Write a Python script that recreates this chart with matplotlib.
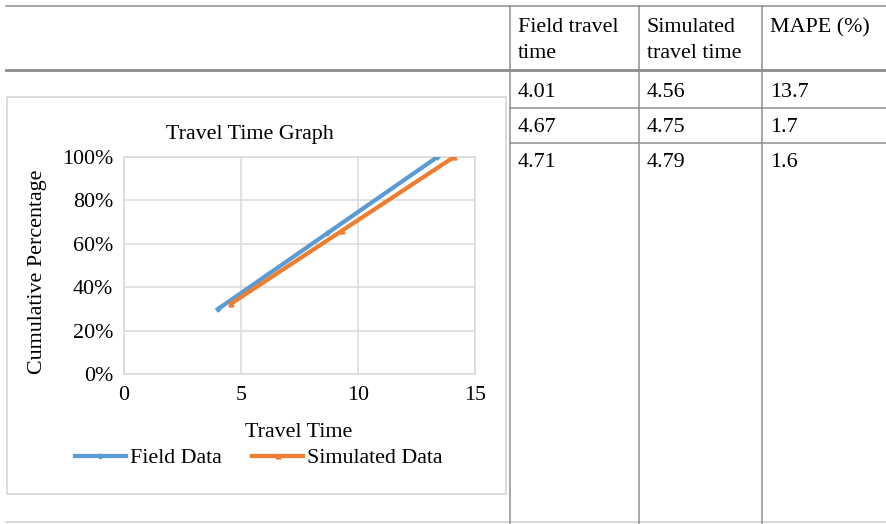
import matplotlib
matplotlib.use("Agg")
import matplotlib.pyplot as plt
from matplotlib.patches import Rectangle
from matplotlib.ticker import FuncFormatter

# DATOS
# tabla de tiempos de viaje
header_cols = [["Field travel", "time"], ["Simulated", "travel time"], ["MAPE (%)"]]
field_tt = ["4.01", "4.67", "4.71"]
sim_tt = ["4.56", "4.75", "4.79"]
mape = ["13.7", "1.7", "1.6"]

# grafica: tiempo acumulado vs porcentaje acumulado
field_time = [4.01, 8.68, 13.39]
field_pct = [29.9, 64.8, 100.0]
sim_time = [4.56, 9.31, 14.10]
sim_pct = [32.3, 66.0, 100.0]

plt.rcParams['font.family'] = ['Liberation Serif', 'DejaVu Serif']
FS = 15.8
W, H = 886, 524
px = 0.72  # pixel -> punto

fig = plt.figure(figsize=(W / 100, H / 100), dpi=100)

# capa para la tabla, en coordenadas de pixel
base = fig.add_axes([0, 0, 1, 1])
base.set_xlim(0, W)
base.set_ylim(H, 0)
base.axis('off')

col_x = [510, 639, 762]
gris = '#8c8c8c'
base.plot([6, W], [6, 6], color=gris, lw=1.5 * px)
base.plot([6, W], [70, 70], color=gris, lw=2.8 * px)
for yy in [108, 143]:
    base.plot([col_x[0], W], [yy, yy], color=gris, lw=1.5 * px)
base.plot([6, W], [522, 522], color='#cfcfcf', lw=1.6 * px)
for xx in col_x:
    base.plot([xx, xx], [6, H], color=gris, lw=1.5 * px)

# encabezados
for xx, lines in zip(col_x, header_cols):
    for k, t in enumerate(lines):
        base.text(xx + 8, 32 + 26 * k, t, fontsize=FS, va='baseline', ha='left')

# filas
for i in range(len(field_tt)):
    yb = 97 + 35 * i
    for xx, val in zip(col_x, [field_tt[i], sim_tt[i], mape[i]]):
        base.text(xx + 8, yb, val, fontsize=FS, va='baseline', ha='left')

# marco de la grafica
base.add_patch(Rectangle((7, 97), 499, 397, fill=False, edgecolor='#d9d9d9', lw=1.8 * px))

# GRAFICA
ax = fig.add_axes([124 / W, 1 - 374 / H, (475 - 124) / W, (374 - 157) / H])
ax.plot(field_time, field_pct, color='#5b9bd5', lw=4.2 * px, marker='D', markersize=2.5,
        label='Field Data', zorder=3)
ax.plot(sim_time, sim_pct, color='#ed7d31', lw=4.2 * px, marker='^', markersize=3.5,
        label='Simulated Data', zorder=3)

ax.set_xlim(0, 15)
ax.set_ylim(0, 100)
ax.set_xticks([0, 5, 10, 15])
ax.set_yticks([0, 20, 40, 60, 80, 100])
ax.yaxis.set_major_formatter(FuncFormatter(lambda v, p: f'{v:.0f}%'))
ax.grid(True, color='#d9d9d9', lw=1.5 * px)
ax.set_axisbelow(True)
for s in ax.spines.values():
    s.set_color('#d9d9d9')
    s.set_linewidth(1.5 * px)
ax.tick_params(length=0, labelsize=FS)
ax.tick_params(axis='y', pad=8)
ax.tick_params(axis='x', pad=9)

fig.text(250 / W, 1 - 139 / H, 'Travel Time Graph', fontsize=FS, ha='center', va='baseline')
fig.text(299 / W, 1 - 437 / H, 'Travel Time', fontsize=FS, ha='center', va='baseline')
fig.text(38 / W, 1 - 272 / H, 'Cumulative Percentage', fontsize=FS, ha='center',
         va='center', rotation=90)

ax.legend(loc='center', bbox_to_anchor=(259 / W, 1 - 458 / H), bbox_transform=fig.transFigure,
          ncol=2, frameon=False, fontsize=FS, handlelength=2.3, handletextpad=0.2,
          columnspacing=1.4, borderpad=0)

fig.savefig('out.png', dpi=100)
